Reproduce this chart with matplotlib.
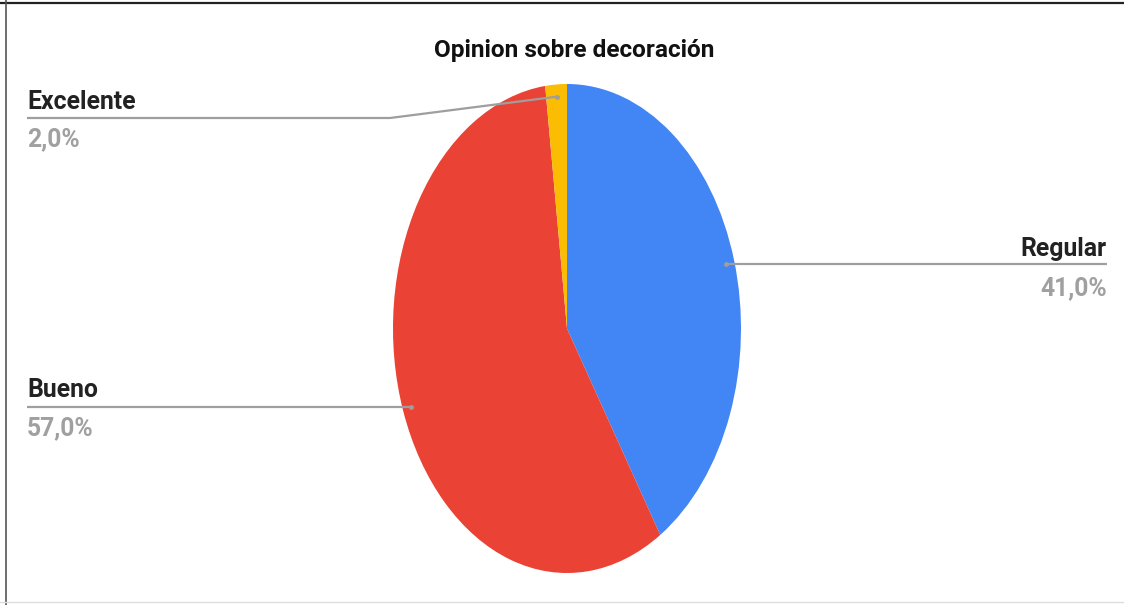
import matplotlib
matplotlib.use("Agg")
import matplotlib.pyplot as plt
from matplotlib import font_manager
import numpy as np

# data
categories = ["Regular", "Bueno", "Excelente"]
values = [41.0, 57.0, 2.0]
pct_labels = ["41,0%", "57,0%", "2,0%"]
colors = ["#4285F4", "#EA4335", "#FBBC04"]
title = "Opinion sobre decoración"

W, H = 1124, 605

installed = {f.name for f in font_manager.fontManager.ttflist}
narrow = "Liberation Sans Narrow" in installed
font = "Liberation Sans Narrow" if narrow else "Roboto"
plt.rcParams["font.family"] = [font, "DejaVu Sans"]
lab_size = 21.5 if narrow else 17.8

fig = plt.figure(figsize=(W / 100, H / 100), dpi=100)

# pie is stretched vertically in the reference, so give it its own box
pie_ax = fig.add_axes([393 / W, 1 - 573 / H, 348 / W, 489 / H])
wedges, _ = pie_ax.pie(values, colors=colors, startangle=90, counterclock=False,
                       radius=1, wedgeprops=dict(linewidth=0))
pie_ax.set_aspect("auto")
pie_ax.set_xlim(-1, 1)
pie_ax.set_ylim(-1, 1)
pie_ax.axis("off")

# overlay in pixel coordinates for labels and leader lines
ov = fig.add_axes([0, 0, 1, 1])
ov.set_xlim(0, W)
ov.set_ylim(H, 0)
ov.axis("off")
fig.canvas.draw()

def anchor(w, r=0.95):
    t = np.deg2rad((w.theta1 + w.theta2) / 2)
    disp = pie_ax.transData.transform((r * np.cos(t), r * np.sin(t)))
    return ov.transData.inverted().transform(disp)

line_kw = dict(color="#9E9E9E", lw=1.6, solid_capstyle="butt")
lab_kw = dict(fontsize=lab_size, color="#222222", fontweight="bold")
pct_kw = dict(fontsize=lab_size, color="#A0A0A0", fontweight="bold")

# Regular (right side)
ax_, ay_ = anchor(wedges[0])
ov.plot([ax_, 1107], [ay_, ay_], **line_kw)
ov.plot(ax_, ay_, "o", ms=2.5, color="#9E9E9E")
ov.text(1107, ay_ - 8, categories[0], ha="right", va="baseline", **lab_kw)
ov.text(1107, ay_ + 32, pct_labels[0], ha="right", va="baseline", **pct_kw)

# Bueno (left side)
bx, by = anchor(wedges[1])
ov.plot([bx, 27], [by, by], **line_kw)
ov.plot(bx, by, "o", ms=2.5, color="#9E9E9E")
ov.text(27, by - 10, categories[1], ha="left", va="baseline", **lab_kw)
ov.text(27, by + 28, pct_labels[1], ha="left", va="baseline", **pct_kw)

# Excelente (left side, bent leader)
ex, ey = anchor(wedges[2])
ov.plot([ex, 390, 27], [ey, 118, 118], **line_kw)
ov.plot(ex, ey, "o", ms=2.5, color="#9E9E9E")
ov.text(27, 109, categories[2], ha="left", va="baseline", **lab_kw)
ov.text(27, 146, pct_labels[2], ha="left", va="baseline", **pct_kw)

ov.text(574, 57, title, ha="center", va="baseline", fontsize=17.6, fontweight="bold", color="#111111")

# screenshot frame
ov.plot([0, W], [2.5, 2.5], color="#222222", lw=1.6)
ov.plot([5.5, 5.5], [0, H], color="#555555", lw=1.2)
ov.plot([0, W], [602, 602], color="#DDDDDD", lw=1)

fig.savefig("out.png", dpi=100)
